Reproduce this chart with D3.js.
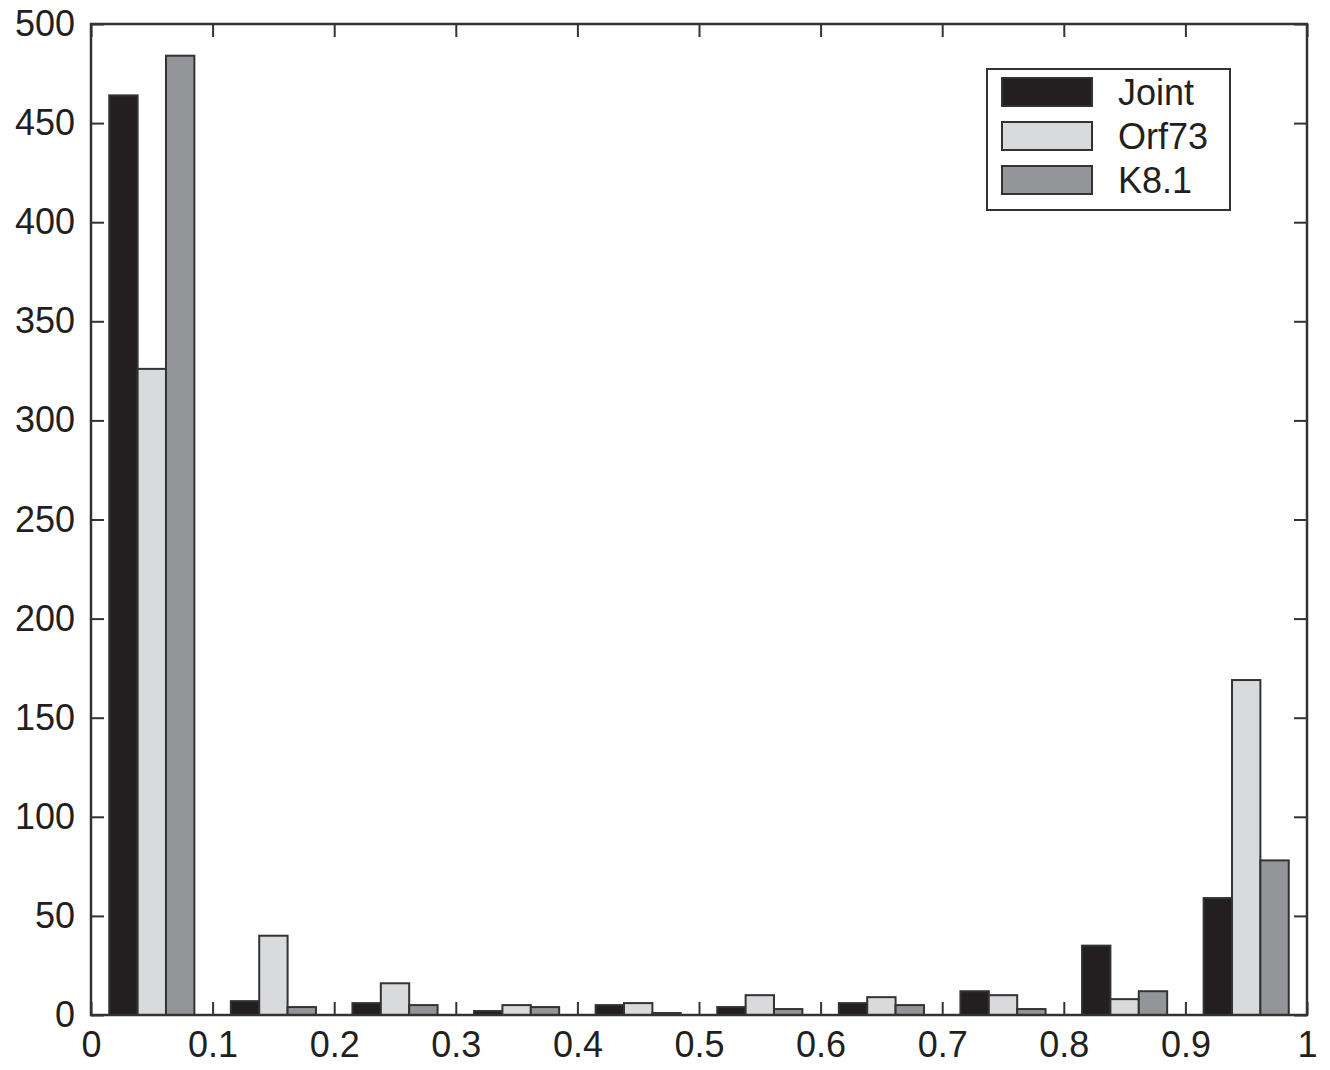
<!DOCTYPE html>
<html lang="en">
<head>
    <meta charset="UTF-8">
    <title>Joint / Orf73 / K8.1 histogram</title>
    <script src="https://d3js.org/d3.v7.min.js"></script>
    <style>
        body { margin: 0; background: #fff; }
        text { font-family: "Liberation Sans", Arial, sans-serif; fill: #231f20; }
    </style>
</head>
<body>
    <svg width="1330" height="1070"></svg>
    <script>
        // bin centres and counts per series
        const binCenters = [0.05, 0.15, 0.25, 0.35, 0.45, 0.55, 0.65, 0.75, 0.85, 0.95];
        const seriesNames = ["Joint", "Orf73", "K8.1"];
        const jointValues = [464, 7, 6, 2, 5, 4, 6, 12, 35, 59];
        const orf73Values = [326, 40, 16, 5, 6, 10, 9, 10, 8, 169];
        const k81Values   = [484, 4, 5, 4, 1, 3, 5, 3, 12, 78];
        const xTicks = [0, 0.1, 0.2, 0.3, 0.4, 0.5, 0.6, 0.7, 0.8, 0.9, 1];
        const yTicks = [0, 50, 100, 150, 200, 250, 300, 350, 400, 450, 500];
        const colors = ["#231f20", "#d9dadc", "#939598"];

        const margin = {left: 91, right: 23, top: 24, bottom: 55};
        const width = 1330, height = 1070;
        const svg = d3.select("svg");

        const x = d3.scaleLinear().domain([0, 1]).range([margin.left, width - margin.right]);
        const y = d3.scaleLinear().domain([0, 500]).range([height - margin.bottom, margin.top]);
        const groupWidth = 0.07;
        const inner = d3.scaleBand().domain(seriesNames).range([-groupWidth / 2, groupWidth / 2]);

        const seriesValues = [jointValues, orf73Values, k81Values];

        // bars
        seriesNames.forEach((name, si) => {
            svg.append("g")
                .selectAll("rect")
                .data(binCenters.map((c, i) => ({c, v: seriesValues[si][i]})))
                .join("rect")
                .attr("x", d => x(d.c + inner(name)))
                .attr("width", x(inner.bandwidth()) - x(0))
                .attr("y", d => y(d.v))
                .attr("height", d => y(0) - y(d.v))
                .attr("fill", colors[si])
                .attr("stroke", "#333")
                .attr("stroke-width", 2);
        });

        // axes, ticks pointing inward on all four sides
        const tickLen = 13;
        const font = 36;
        svg.append("g")
            .attr("transform", `translate(0,${y(0)})`)
            .call(d3.axisBottom(x).tickValues(xTicks).tickSize(-tickLen).tickPadding(16).tickFormat(d3.format("")))
            .call(g => g.select(".domain").remove())
            .call(g => g.selectAll("line").attr("stroke", "#333").attr("stroke-width", 2))
            .call(g => g.selectAll("text").attr("font-size", font).attr("fill", "#231f20").attr("font-family", "Liberation Sans, Arial, sans-serif"));
        svg.append("g")
            .attr("transform", `translate(0,${y(500)})`)
            .call(d3.axisTop(x).tickValues(xTicks).tickSize(-tickLen).tickFormat(""))
            .call(g => g.select(".domain").remove())
            .call(g => g.selectAll("line").attr("stroke", "#333").attr("stroke-width", 2));
        svg.append("g")
            .attr("transform", `translate(${x(0)},0)`)
            .call(d3.axisLeft(y).tickValues(yTicks).tickSize(-tickLen).tickPadding(16))
            .call(g => g.select(".domain").remove())
            .call(g => g.selectAll("line").attr("stroke", "#333").attr("stroke-width", 2))
            .call(g => g.selectAll("text").attr("font-size", font).attr("fill", "#231f20").attr("font-family", "Liberation Sans, Arial, sans-serif"));
        svg.append("g")
            .attr("transform", `translate(${x(1)},0)`)
            .call(d3.axisRight(y).tickValues(yTicks).tickSize(-tickLen).tickFormat(""))
            .call(g => g.select(".domain").remove())
            .call(g => g.selectAll("line").attr("stroke", "#333").attr("stroke-width", 2));

        // frame
        svg.append("rect")
            .attr("x", x(0)).attr("y", y(500))
            .attr("width", x(1) - x(0)).attr("height", y(0) - y(500))
            .attr("fill", "none").attr("stroke", "#333").attr("stroke-width", 2.5);

        // legend
        const legend = svg.append("g").attr("transform", "translate(987,69)");
        legend.append("rect")
            .attr("width", 243).attr("height", 141)
            .attr("fill", "#fff").attr("stroke", "#333").attr("stroke-width", 2);
        seriesNames.forEach((name, i) => {
            const row = legend.append("g").attr("transform", `translate(15,${9 + i * 44})`);
            row.append("rect")
                .attr("width", 90).attr("height", 28)
                .attr("fill", colors[i]).attr("stroke", "#333").attr("stroke-width", 2);
            row.append("text")
                .attr("x", 116).attr("y", 14).attr("dy", "0.36em")
                .attr("font-size", 36)
                .text(name);
        });
    </script>
</body>
</html>
